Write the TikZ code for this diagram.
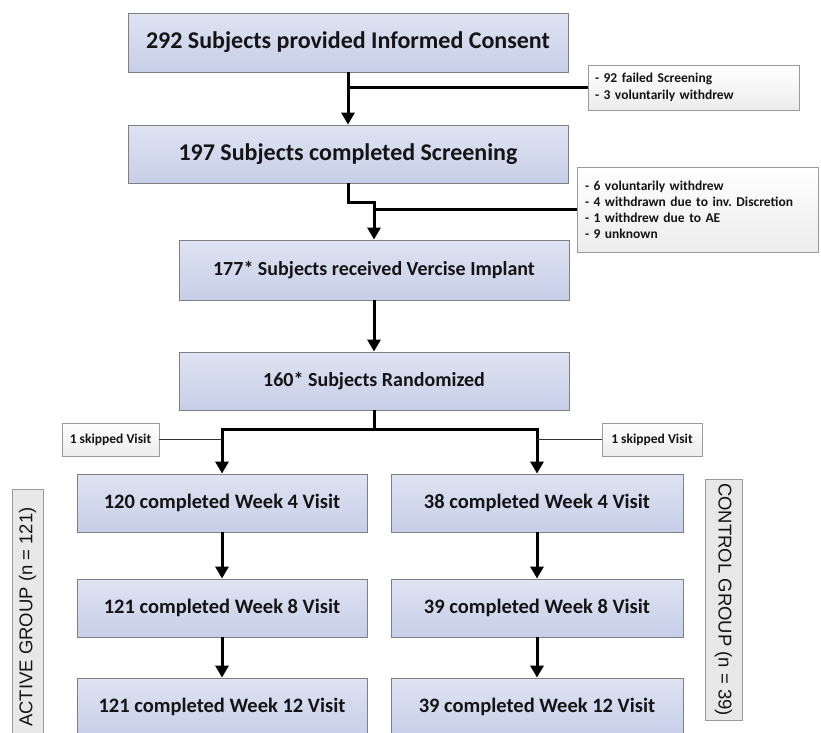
\documentclass[tikz,border=0pt]{standalone}
\usepackage{fontspec}
\setmainfont{Carlito}
\newfontfamily\labelfont{Liberation Sans}
\usetikzlibrary{arrows.meta}
\definecolor{boxtop}{HTML}{DFE3F2}
\definecolor{boxbot}{HTML}{C7CEE8}
\definecolor{boxline}{HTML}{7F7F7F}
\definecolor{notebot}{HTML}{ECECEC}
\definecolor{noteline}{HTML}{9A9A9A}
\definecolor{labfill}{HTML}{E8E8E8}
\definecolor{txt}{HTML}{141414}
\frenchspacing
\begin{document}
\begin{tikzpicture}[x=1pt,y=-1pt,
  mainbox/.style={draw=boxline, line width=0.9pt, top color=boxtop, bottom color=boxbot, inner sep=0pt, text=txt, font=\bfseries},
  bigtxt/.style={font=\bfseries\fontsize{24}{28}\selectfont},
  midtxt/.style={font=\bfseries\fontsize{20}{24}\selectfont},
  lowtxt/.style={font=\bfseries\fontsize{20.5}{24}\selectfont},
  notebox/.style={draw=noteline, line width=0.9pt, top color=white, bottom color=notebot, inner sep=0pt, text=txt, font=\bfseries\fontsize{13.5}{16.5}\selectfont},
  flow/.style={line width=3pt, -{Triangle[width=13pt,length=12pt]}},
  plainline/.style={line width=3pt},
  skipline/.style={line width=1.3pt, draw=black!80},
  grouplab/.style={draw=noteline, line width=0.9pt, fill=labfill, inner sep=0pt, text=txt, font=\labelfont\fontsize{18.5}{20}\selectfont}
]
\useasboundingbox (0,0) rectangle (821,732);
\clip (0,0) rectangle (821,732);

% main column
\node[mainbox, bigtxt, minimum width=440pt, minimum height=59pt] (b1) at (348,42.5) {292 Subjects provided Informed Consent};
\node[mainbox, bigtxt, minimum width=440pt, minimum height=58pt] (b2) at (348,154) {197 Subjects completed Screening};
\node[mainbox, midtxt, minimum width=390pt, minimum height=60pt] (b3) at (374,270) {177* Subjects received Vercise Implant};
\node[mainbox, midtxt, minimum width=390pt, minimum height=58pt] (b4) at (374,381) {160* Subjects Randomized};

% two groups
\node[mainbox, lowtxt, minimum width=290pt, minimum height=58pt] (l1) at (222,503) {120 completed Week 4 Visit};
\node[mainbox, lowtxt, minimum width=292pt, minimum height=58pt] (r1) at (537,503) {38 completed Week 4 Visit};
\node[mainbox, lowtxt, minimum width=290pt, minimum height=58pt] (l2) at (222,608) {121 completed Week 8 Visit};
\node[mainbox, lowtxt, minimum width=292pt, minimum height=58pt] (r2) at (537,608) {39 completed Week 8 Visit};
\node[mainbox, lowtxt, minimum width=290pt, minimum height=58pt] (l3) at (222,707) {121 completed Week 12 Visit};
\node[mainbox, lowtxt, minimum width=292pt, minimum height=58pt] (r3) at (537,707) {39 completed Week 12 Visit};

% notes
\node[notebox, minimum height=45pt, text width=197pt, inner xsep=7pt, align=left] (n1) at (693.5,87.5) {- 92 failed Screening\\- 3 voluntarily withdrew};
\node[notebox, minimum height=85pt, text width=225pt, inner xsep=8pt, align=left, font=\bfseries\fontsize{13.5}{16}\selectfont] (n2) at (697.5,209.5) {- 6 voluntarily withdrew\\- 4 withdrawn due to inv. Discretion\\- 1 withdrew due to AE\\- 9 unknown};
\node[notebox, minimum width=97pt, minimum height=33pt] (s1) at (110.5,439.5) {1 skipped Visit};
\node[notebox, minimum width=100pt, minimum height=33pt] (s2) at (652,439.5) {1 skipped Visit};

% group labels
\node[grouplab, rotate=90, minimum width=256pt, minimum height=31pt] (gl) at (27.5,617) {ACTIVE GROUP (n = 121)};
\node[grouplab, rotate=-90, minimum width=241pt, minimum height=37pt] (gr) at (723.5,599.5) {CONTROL GROUP (n = 39)};

% connectors
\draw[flow] (b1.south) -- (b2.north);
\coordinate (j1) at (348,87.5);
\draw[plainline] (j1) -- (n1.west);

\draw[flow] (b2.south) -- ++(0,19) -| (b3.north);
\coordinate (j2) at (374,209.5);
\draw[plainline] (j2) -- (n2.west);

\draw[flow] (b3.south) -- (b4.north);

\draw[plainline] (b4.south) -- ++(0,19) coordinate (j3);
\draw[flow] (j3) -| (l1.north);
\draw[flow] (j3) -| (r1.north);
\draw[skipline] (s1.east) -- (s1.east -| l1.north);
\draw[skipline] (s2.west) -- (s2.west -| r1.north);

\draw[flow] (l1.south) -- (l2.north);
\draw[flow] (l2.south) -- (l3.north);
\draw[flow] (r1.south) -- (r2.north);
\draw[flow] (r2.south) -- (r3.north);
\end{tikzpicture}
\end{document}
